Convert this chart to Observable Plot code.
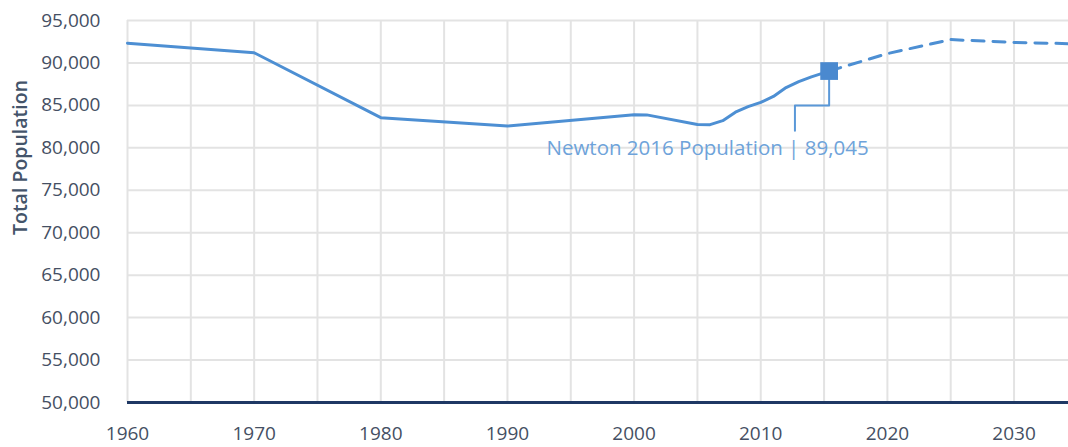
<!DOCTYPE html>
<html>
<head>
<meta charset="utf-8">
<script src="https://cdn.jsdelivr.net/npm/d3@7"></script>
<script src="https://cdn.jsdelivr.net/npm/@observablehq/plot@0.6"></script>
<style>
  html, body { margin: 0; padding: 0; background: #fff; }
  #chart svg { display: block; font-family: "Open Sans", sans-serif; }
</style>
</head>
<body>
<div id="chart"></div>
<script>
// Historic population (solid line)
const histYears = [1960, 1970, 1980, 1990, 2000, 2001, 2005, 2006, 2007, 2008, 2009, 2010, 2011, 2012, 2013, 2014, 2015.4];
const histPop   = [92330, 91200, 83550, 82580, 83900, 83880, 82750, 82730, 83200, 84200, 84850, 85350, 86050, 87100, 87800, 88350, 89045];
// Projected population (dashed line)
const projYears = [2015.4, 2020, 2025, 2030, 2035];
const projPop   = [89045, 91100, 92750, 92420, 92250];
// Highlighted point
const markYear = 2015.4;
const markPop = 89045;
const markLabel = "Newton 2016 Population | 89,045";
// Annotation leader (data units)
const leaderYears = [2015.4, 2015.4, 2012.7, 2012.7];
const leaderPop   = [89045, 85000, 85000, 82000];
const labelYear = 2005.8;
const labelPop = 79900;
// Axes
const xTicks = [1960, 1970, 1980, 1990, 2000, 2010, 2020, 2030];
const xGrid = d3.range(1960, 2035, 5);
const yTicks = d3.range(50000, 95001, 5000);
const yTitle = "Total Population";

const hist = histYears.map((y, i) => ({year: y, pop: histPop[i]}));
const proj = projYears.map((y, i) => ({year: y, pop: projPop[i]}));
const leader = leaderYears.map((y, i) => ({year: y, pop: leaderPop[i]}));

const blue = "#4d8fd3";
const axisColor = "#454f63";

const chart = Plot.plot({
  width: 1068,
  height: 447,
  marginLeft: 127,
  marginRight: 0,
  marginTop: 20,
  marginBottom: 45,
  style: {fontFamily: "Open Sans, sans-serif", fontSize: "19px", color: axisColor, background: "#fff"},
  x: {domain: [1960, 2034.3]},
  y: {domain: [50000, 95000]},
  marks: [
    Plot.gridX(xGrid, {stroke: "#e3e3e3", strokeOpacity: 1, strokeWidth: 2}),
    Plot.gridY(yTicks, {stroke: "#e3e3e3", strokeOpacity: 1, strokeWidth: 2}),
    Plot.axisX(xTicks, {tickSize: 0, tickPadding: 24, tickFormat: d => String(d), label: null, fill: axisColor}),
    Plot.axisY(yTicks, {tickSize: 0, tickPadding: 27, tickFormat: d3.format(","), label: null, fill: axisColor}),
    Plot.text([yTitle], {frameAnchor: "left", dx: -107, dy: -54, rotate: -90, text: d => d, fill: "#44546a",
      fontSize: 19.5, fontWeight: 600, textAnchor: "middle", lineAnchor: "middle"}),
    Plot.ruleY([50000], {stroke: "#1f3864", strokeWidth: 3}),
    Plot.line(leader, {x: "year", y: "pop", stroke: "#5a98d8", strokeWidth: 2}),
    Plot.line(proj, {x: "year", y: "pop", stroke: blue, strokeWidth: 3, strokeDasharray: "12,9", clip: true}),
    Plot.line(hist, {x: "year", y: "pop", stroke: blue, strokeWidth: 3, strokeLinejoin: "round"}),
    Plot.dot([{year: markYear, pop: markPop}], {x: "year", y: "pop", symbol: "square", r: 10, fill: "#4a89cf", stroke: "none"}),
    Plot.text([{year: labelYear, pop: labelPop}], {x: "year", y: "pop", text: () => markLabel, fill: "#6ea3da",
      fontSize: 20.5, textAnchor: "middle", lineAnchor: "middle"})
  ]
});
document.getElementById("chart").appendChild(chart);
</script>
</body>
</html>
